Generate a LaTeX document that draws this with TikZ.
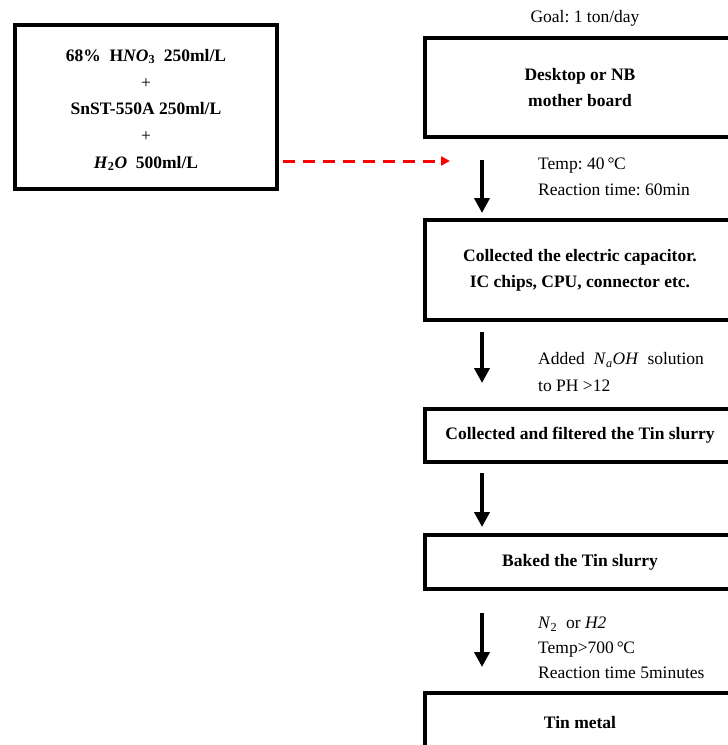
\documentclass[tikz,border=0pt]{standalone}
\usepackage{fontspec}
\setmainfont{Liberation Serif}
\usetikzlibrary{arrows.meta,positioning}
\newcommand{\degC}{\hspace{3pt}\textdegree\hspace{-0.5pt}C}

\begin{document}
\frenchspacing
\begin{tikzpicture}[x=1pt,y=-1pt]
			\tikzstyle{Box}  = [draw, rectangle, line width=4pt, outer sep=0pt, inner sep=0pt, align=center, font=\fontsize{17.5}{26}\selectfont\bfseries]
			\tikzstyle{Note} = [anchor=west, align=left, inner sep=0pt, font=\fontsize{17.5}{26}\selectfont]
			\tikzstyle{Flow} = [line width=4.5pt, -{Triangle[width=15pt,length=15pt]}]
			\tikzstyle{Feed} = [line width=3pt, red, dash pattern=on 12pt off 8pt, -{Triangle[width=9pt,length=9pt]}]

			\useasboundingbox (0,0) rectangle (728,745);
			\clip (0,0) rectangle (728,745);

			\node (mix) at (146,107) [Box, minimum width=262pt, minimum height=164pt] {};
			\node (mixtext) at (146,110) [align=center, inner sep=0pt, font=\fontsize{17.5}{26.7}\selectfont\bfseries]
				{68\%\ \ H\textit{NO}\textsubscript{3}\ \ 250ml/L\\ {\mdseries +}\\ SnST-550A 250ml/L\\ {\mdseries +}\\ \textit{H}\textsubscript{2}\textit{O}\ \ 500ml/L};

			\node (goal) at (585,18) [Note, anchor=center] {Goal: 1 ton/day};
			\node (b1) at (580,87.5) [Box, minimum width=310pt, minimum height=99pt] {Desktop or NB\\ mother board};
			\node (b2) at (580,270) [Box, minimum width=310pt, minimum height=100pt] {Collected the electric capacitor.\\ IC chips, CPU, connector etc.};
			\node (b3) at (580,435.5) [Box, minimum width=310pt, minimum height=53pt] {Collected and filtered the Tin slurry};
			\node (b4) at (580,562) [Box, minimum width=310pt, minimum height=54pt] {Baked the Tin slurry};
			\node (b5) at (580,723) [Box, minimum width=310pt, minimum height=60pt] {Tin metal};

			\node (n1) at (538,177) [Note] {Temp: 40\degC\\ Reaction time: 60min};
			\node (n2) at (538,372) [Note, font=\fontsize{17.5}{27}\selectfont] {Added\ \ \textit{N}\textsubscript{\textit{a}}\textit{OH}\ \ solution\\ to PH >12};
			\node (n4) at (538,648) [Note, font=\fontsize{17.5}{25}\selectfont] {\textit{N}\textsubscript{2}\ \ or \textit{H2}\\ Temp>700\degC\\ Reaction time 5minutes};

			\draw [Flow] ([shift={(57,23)}]b1.south west) -- ([shift={(57,-7)}]b2.north west);
			\draw [Flow] ([shift={(57,12)}]b2.south west) -- ([shift={(57,-26)}]b3.north west);
			\draw [Flow] ([shift={(57,11)}]b3.south west) -- ([shift={(57,-8)}]b4.north west);
			\draw [Flow] ([shift={(57,24)}]b4.south west) -- ([shift={(57,-26)}]b5.north west);

			\coordinate (feedend) at (450,161);
			\draw [Feed] (mix.east |- feedend) ++(6,0) -- (feedend);
		\end{tikzpicture}
\end{document}
